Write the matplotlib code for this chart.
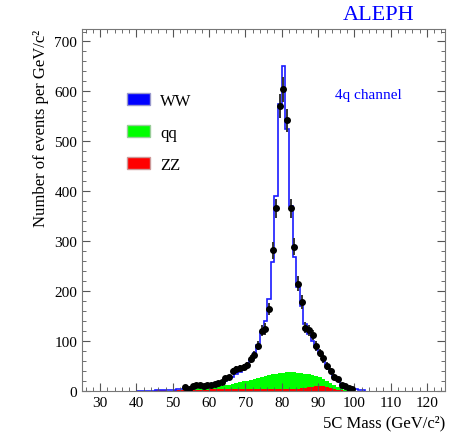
import numpy as np
from matplotlib import pyplot as plt
from matplotlib.patches import Patch
from matplotlib.ticker import MultipleLocator

plt.rcParams["font.family"] = ["Liberation Serif", "DejaVu Serif"]

# 1 GeV bins, left edges
mc_edges = np.arange(40, 104)
# total expectation (WW + qq + ZZ), blue outline
mc_total = [0, 0, 0, 0, 0, 1, 1, 1, 1, 2,
            2, 3, 4, 5, 6, 7, 8, 9, 10, 11,
            12, 13, 15, 17, 20, 24, 28, 33, 38, 44,
            52, 62, 75, 92, 118, 140, 184, 258, 391, 575,
            651, 525, 370, 268, 208, 170, 135, 115, 100, 88,
            76, 64, 52, 40, 30, 22, 14, 9, 6, 4,
            3, 2, 1]
qq = [0, 0, 0, 0, 0, 0, 0, 0, 0, 0,
      0, 0, 1, 1, 1, 2, 2, 3, 3, 4,
      4, 5, 6, 7, 8, 9, 11, 12, 14, 16,
      17, 19, 21, 23, 25, 27, 28, 30, 31, 32,
      33, 33, 33, 33, 32, 30, 28, 26, 23, 20,
      17, 15, 13, 11, 9, 6, 4, 2, 1, 0,
      0, 0, 0]
zz = [0, 0, 0, 0, 0, 1, 1, 1, 0, 0,
      1, 1, 1, 1, 1, 2, 2, 2, 2, 2,
      3, 3, 3, 3, 3, 3, 3, 3, 3, 3,
      3, 3, 3, 3, 3, 3, 3, 3, 3, 3,
      3, 4, 4, 4, 4, 5, 6, 7, 8, 9,
      10, 9, 7, 5, 3, 2, 1, 0, 0, 0,
      0, 0, 0]

data_x = np.arange(53, 100) + 0.5
data_y = [7, 4, 9, 11, 11, 10, 11, 11, 13, 15,
          17, 25, 27, 40, 43, 45, 47, 51, 64, 72,
          91, 121, 124, 164, 282, 366, 571, 604, 542, 366,
          289, 215, 178, 127, 122, 112, 90, 76, 65, 50,
          40, 28, 24, 12, 9, 5, 3]
data_err = [2.6, 2.0, 3.0, 3.3, 3.3, 3.2, 3.3, 3.3, 3.6, 3.9,
            4.1, 5.0, 5.2, 6.3, 6.6, 6.7, 6.9, 7.1, 8.0, 8.5,
            9.5, 11.0, 11.1, 12.8, 16.8, 19.1, 23.9, 24.6, 23.3, 19.1,
            17.0, 14.7, 13.3, 11.3, 11.0, 10.6, 9.5, 8.7, 8.1, 7.1,
            6.3, 5.3, 4.9, 3.5, 3.0, 2.2, 1.7]

edges = np.append(mc_edges[:len(mc_total)], mc_edges[len(mc_total) - 1] + 1)
zz = np.array(zz)
qq_top = zz + np.array(qq)

fig = plt.figure(figsize=(4.66, 4.35), dpi=100)
ax = fig.add_axes([0.176, 0.099, 0.779, 0.832])

ax.stairs(qq_top, edges, fill=True, color="#00ff00", linewidth=0)
ax.stairs(zz, edges, fill=True, color="#ff0000", linewidth=0)
ax.stairs(mc_total, edges, color="#1a1aff", linewidth=1.2)
ax.errorbar(data_x, data_y, yerr=data_err, fmt="o", color="black",
            markersize=4, ecolor="#333333", elinewidth=1.4, capsize=0)

ax.set_xlim(25, 125)
ax.set_ylim(0, 725)
ax.xaxis.set_minor_locator(MultipleLocator(2))
ax.yaxis.set_major_locator(MultipleLocator(100))
ax.yaxis.set_minor_locator(MultipleLocator(20))
ax.set_xticks(np.arange(30, 121, 10))
ax.tick_params(which="both", direction="in", top=True, right=True,
               colors="#555555", labelcolor="black", labelsize=11)
ax.tick_params(which="major", length=6)
ax.tick_params(which="minor", length=3)
for s in ax.spines.values():
    s.set_color("#777777")

ax.set_xlabel("5C Mass (GeV/c²)", loc="right", fontsize=12)
ax.set_ylabel("Number of events per GeV/c²", loc="top", fontsize=12)

handles = [Patch(facecolor="#0000ff", edgecolor="#9999cc", label="WW"),
           Patch(facecolor="#00ff00", edgecolor="#99cc99", label="qq"),
           Patch(facecolor="#ff0000", edgecolor="#cc9999", label="ZZ")]
ax.legend(handles=handles, loc="upper left", bbox_to_anchor=(0.083, 0.865),
          frameon=False, fontsize=12, handlelength=1.4, handleheight=0.75,
          handletextpad=0.6, labelspacing=0.95)

ax.text(0.697, 0.818, "4q channel", transform=ax.transAxes, color="#0000ff",
        fontsize=11, va="center")
fig.text(0.89, 0.965, "ALEPH", color="#0000ff", fontsize=16, ha="right",
         va="center")

fig.savefig("out.png", dpi=100)
